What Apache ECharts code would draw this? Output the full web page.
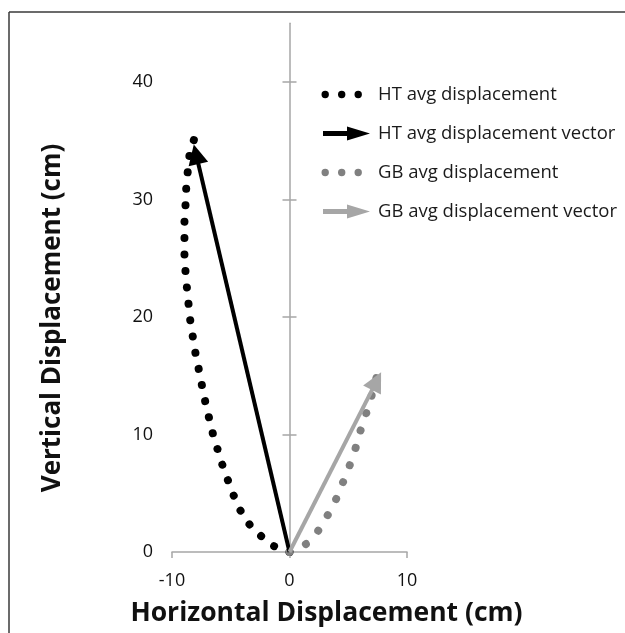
<!DOCTYPE html>
<html>
<head>
<meta charset="utf-8">
<script src="https://cdn.jsdelivr.net/npm/echarts@6/dist/echarts.min.js"></script>
<style>
  html, body { margin: 0; padding: 0; background: #fff; }
  #chart { width: 625px; height: 633px; }
</style>
</head>
<body>
<div id="chart"></div>
<script>
// ---- data (cm) ----
var htPath = [[0,0],[-1.42,0.54],[-2.47,1.40],[-3.40,2.34],[-4.20,3.57],[-4.77,4.85],[-5.25,6.13],[-5.76,7.55],[-6.15,8.83],[-6.53,10.10],[-6.87,11.51],[-7.17,12.79],[-7.46,14.21],[-7.74,15.63],[-8.00,16.91],[-8.23,18.32],[-8.45,19.74],[-8.60,21.17],[-8.74,22.58],[-8.85,23.85],[-8.94,25.28],[-8.94,26.70],[-8.94,28.11],[-8.85,29.53],[-8.79,30.95],[-8.66,32.37],[-8.51,33.79],[-8.14,35.06]];
var gbPath = [[0,0],[1.40,0.68],[2.43,1.79],[3.26,3.15],[3.97,4.51],[4.54,5.90],[5.11,7.34],[5.62,8.83],[6.04,10.32],[6.53,11.80],[6.98,13.28],[7.40,14.81]];
var htVector = [[0,0],[-7.95,33.85]];
var gbVector = [[0,0],[7.41,14.55]];
var xTicks = [-10, 0, 10];
var yTicks = [0, 10, 20, 30, 40];
var yInnerTicks = [10, 20, 30, 40];
var seriesNames = ['HT avg displacement', 'HT avg displacement vector', 'GB avg displacement', 'GB avg displacement vector'];
var xTitle = 'Horizontal Displacement (cm)';
var yTitle = 'Vertical Displacement (cm)';

var FONT = 'Open Sans';
var dotIcon = 'path://M0,0 M49,14 M0.5,7 a3.7,3.7 0 1,0 7.4,0 a3.7,3.7 0 1,0 -7.4,0 Z M17,7 a3.7,3.7 0 1,0 7.4,0 a3.7,3.7 0 1,0 -7.4,0 Z M33.5,7 a3.7,3.7 0 1,0 7.4,0 a3.7,3.7 0 1,0 -7.4,0 Z';
var arrowIcon = 'path://M0,0 M49,14 M2,4.5 L26,4.5 L26,0 L49,7 L26,14 L26,9.5 L2,9.5 Z';

var chart = echarts.init(document.getElementById('chart'), null, {renderer: 'canvas'});
var axisGray = '#a6a6a6';
var option = {
  animation: false,
  backgroundColor: '#ffffff',
  grid: { left: 172, right: 218, top: 23.25, bottom: 81, outerBoundsMode: 'none' },
  xAxis: {
    type: 'value', min: -10, max: 10, interval: 10,
    axisLine: { show: true, lineStyle: { color: axisGray, width: 1.5 } },
    axisTick: { show: true, length: 6, lineStyle: { color: axisGray, width: 1.5 }, customValues: xTicks },
    axisLabel: { fontFamily: FONT, fontSize: 18, color: '#111', margin: 20, customValues: xTicks },
    splitLine: { show: false }
  },
  yAxis: [
    {
      type: 'value', min: 0, max: 45, interval: 10, position: 'left',
      axisLine: { show: false, onZero: false },
      axisTick: { show: false },
      axisLabel: { fontFamily: FONT, fontSize: 18, color: '#111', margin: 19, customValues: yTicks },
      splitLine: { show: false }
    },
    {
      type: 'value', min: 0, max: 45, interval: 10, position: 'left',
      axisLine: { show: true, onZero: true, onZeroAxisIndex: 0, lineStyle: { color: axisGray, width: 1.5 } },
      axisTick: { show: true, length: 7, lineStyle: { color: axisGray, width: 1.5 }, customValues: yInnerTicks },
      axisLabel: { show: false },
      splitLine: { show: false }
    },
    {
      type: 'value', min: 0, max: 45, interval: 10, position: 'left',
      axisLine: { show: true, onZero: true, onZeroAxisIndex: 0, lineStyle: { color: 'rgba(0,0,0,0)', width: 1 } },
      axisTick: { show: true, inside: true, length: 7, lineStyle: { color: axisGray, width: 1.5 }, customValues: yInnerTicks },
      axisLabel: { show: false },
      splitLine: { show: false }
    }
  ],
  legend: {
    orient: 'vertical', left: 321, top: 85, padding: 0, itemWidth: 49, itemHeight: 14, itemGap: 20,
    selectedMode: false,
    itemStyle: { borderWidth: 0 },
    textStyle: { fontFamily: FONT, fontSize: 18.5, lineHeight: 18, color: '#1a1a1a', padding: [0,0,0,3] },
    data: [
      { name: seriesNames[0], icon: dotIcon },
      { name: seriesNames[1], icon: arrowIcon },
      { name: seriesNames[2], icon: dotIcon },
      { name: seriesNames[3], icon: arrowIcon }
    ]
  },
  graphic: [
    { type: 'line', shape: { x1: 9, y1: 12, x2: 625, y2: 12 }, style: { stroke: '#3a3a3a', lineWidth: 1.5 }, silent: true },
    { type: 'line', shape: { x1: 9, y1: 12, x2: 9, y2: 633 }, style: { stroke: '#3a3a3a', lineWidth: 1.5 }, silent: true },
    { type: 'text', x: 326.5, y: 613, style: { text: xTitle, fontFamily: FONT, fontSize: 26.5, fontWeight: 'bold', fill: '#111', align: 'center', verticalAlign: 'middle' } },
    { type: 'text', x: 53, y: 318, rotation: Math.PI / 2, style: { text: yTitle, fontFamily: FONT, fontSize: 26, fontWeight: 'bold', fill: '#111', align: 'center', verticalAlign: 'middle' } }
  ],
  series: [
    {
      name: seriesNames[0], type: 'line', data: htPath, yAxisIndex: 0, z: 2,
      symbol: 'none', showSymbol: false, smooth: false,
      itemStyle: { color: '#000' },
      lineStyle: { color: '#000', width: 8, type: [0.01, 16.46], cap: 'round', join: 'round' }
    },
    {
      name: seriesNames[2], type: 'line', data: gbPath, yAxisIndex: 0, z: 2,
      symbol: 'none', showSymbol: false, smooth: false,
      itemStyle: { color: '#808080' },
      lineStyle: { color: '#808080', width: 8, type: [0.01, 18.2], cap: 'round', join: 'round' }
    },
    {
      name: seriesNames[1], type: 'lines', coordinateSystem: 'cartesian2d', yAxisIndex: 0, z: 5,
      symbol: ['none', 'triangle'], symbolSize: [14, 20],
      lineStyle: { color: '#000', width: 4, opacity: 1, curveness: 0 },
      data: [{ coords: htVector }]
    },
    {
      name: seriesNames[3], type: 'lines', coordinateSystem: 'cartesian2d', yAxisIndex: 0, z: 5,
      symbol: ['none', 'triangle'], symbolSize: [14, 20],
      lineStyle: { color: '#a6a6a6', width: 4, opacity: 1, curveness: 0 },
      data: [{ coords: gbVector }]
    }
  ]
};
chart.setOption(option);
</script>
</body>
</html>
